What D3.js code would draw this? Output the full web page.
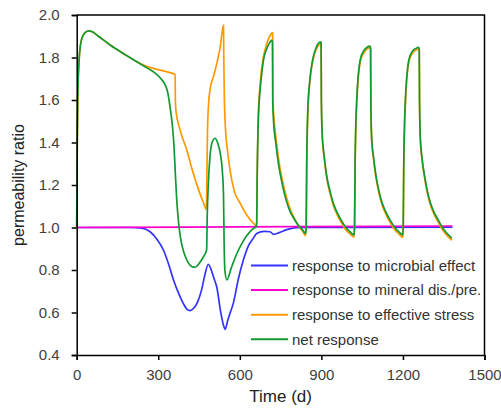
<!DOCTYPE html>
<html>
<head>
<meta charset="utf-8">
<script src="https://cdn.jsdelivr.net/npm/d3@7"></script>
<style>
  body { margin: 0; background: #fff; }
  svg { display: block; font-family: "Liberation Sans", Arial, sans-serif; }
</style>
</head>
<body>
<script>
// tick values
const xTicks = [0, 300, 600, 900, 1200, 1500];
const yTicks = [0.4, 0.6, 0.8, 1.0, 1.2, 1.4, 1.6, 1.8, 2.0];

// series, [time (d), permeability ratio]
const microbial = [
  [0,1.0],[200,1.0],[240,0.997],[270,0.98],[295,0.945],[319,0.894],[340,0.82],[356,0.753],
  [375,0.69],[392,0.643],[405,0.616],[417,0.609],[430,0.62],[445,0.65],[460,0.71],[472,0.78],
  [484,0.827],[492,0.81],[505,0.76],[515,0.721],[530,0.6],[540,0.54],[546,0.521],[555,0.56],
  [565,0.6],[576,0.643],[595,0.76],[613,0.847],[632,0.915],[650,0.95],[662,0.972],[690,0.982],
  [711,0.98],[724,0.968],[745,0.976],[773,0.99],[800,0.998],[822,1.0],[1000,1.001],[1382,1.002]
];

const mineral = [
  [0,1.0],[400,1.002],[800,1.004],[1382,1.007]
];

const stress = [
  [0,1.0],[2,1.4],[4,1.62],[8,1.77],[14,1.86],[22,1.9],[32,1.918],[45,1.925],[55,1.922],
  [80,1.9],[123,1.859],[170,1.82],[221,1.78],[260,1.757],[300,1.743],[340,1.73],[362,1.72],
  [363,1.6],[365,1.55],[380,1.46],[405,1.365],[423,1.28],[445,1.19],[465,1.12],[477,1.085],
  [479,1.25],[481,1.45],[485,1.58],[492,1.66],[503,1.71],[515,1.77],[528,1.85],[540,1.953],
  [541,1.8],[543,1.62],[547,1.47],[555,1.36],[564,1.27],[580,1.17],[601,1.115],[625,1.06],
  [650,1.02],[662,1.008],
  [664,1.25],[667,1.5],[675,1.68],[685,1.79],[698,1.86],[710,1.9],[721,1.917],[722,1.6],
  [726,1.51],[734,1.41],[744,1.31],[757,1.22],[772,1.14],[787,1.08],[802,1.04],[817,1.005],
  [830,0.985],[842,0.962],
  [844,1.0],[846,1.28],[850,1.53],[858,1.69],[868,1.78],[880,1.835],[890,1.858],[897,1.866],
  [899,1.862],[900,1.6],[903,1.43],[910,1.33],[920,1.23],[932,1.16],[945,1.10],[960,1.055],
  [975,1.02],[990,0.99],[1005,0.97],[1020,0.955],
  [1022,1.0],[1024,1.28],[1030,1.58],[1043,1.78],[1055,1.82],[1068,1.84],[1079,1.846],
  [1081,1.838],[1082,1.6],[1085,1.41],[1092,1.32],[1100,1.24],[1112,1.16],[1125,1.10],
  [1140,1.055],[1155,1.02],[1170,0.99],[1185,0.97],[1200,0.953],
  [1201,1.0],[1203,1.28],[1209,1.58],[1222,1.78],[1235,1.82],[1248,1.835],[1257,1.84],
  [1260,1.832],[1261,1.6],[1264,1.41],[1270,1.32],[1280,1.23],[1290,1.16],[1300,1.11],
  [1315,1.06],[1330,1.025],[1345,0.99],[1360,0.965],[1380,0.94]
];

const net = [
  [0,1.0],[2,1.4],[4,1.62],[8,1.77],[14,1.86],[22,1.9],[32,1.918],[45,1.925],[55,1.922],
  [80,1.9],[123,1.859],[170,1.82],[221,1.78],[260,1.75],[290,1.725],[310,1.7],[325,1.672],
  [335,1.635],[343,1.57],[352,1.48],[358,1.38],[363,1.25],[368,1.13],[375,1.02],[382,0.95],
  [395,0.88],[410,0.835],[425,0.815],[436,0.813],[450,0.83],[465,0.86],[478,0.895],
  [480,1.05],[484,1.2],[490,1.33],[498,1.40],[509,1.42],[518,1.40],[528,1.35],[536,1.26],
  [540,1.15],[542,0.95],[545,0.8],[552,0.753],[570,0.815],[590,0.88],[610,0.93],[626,0.962],
  [645,0.99],[660,1.005],
  [662,1.02],[664,1.25],[668,1.5],[677,1.68],[687,1.788],[700,1.845],[710,1.87],[718,1.882],
  [720,1.87],[721,1.6],[724,1.5],[732,1.40],[742,1.30],[755,1.21],[770,1.13],[785,1.075],
  [800,1.04],[815,1.01],[830,0.99],[842,0.972],
  [844,1.0],[846,1.3],[850,1.55],[858,1.7],[868,1.79],[880,1.845],[890,1.868],[896,1.874],
  [899,1.87],[900,1.6],[903,1.44],[910,1.34],[920,1.24],[932,1.17],[945,1.11],[960,1.065],
  [975,1.03],[990,1.0],[1005,0.98],[1020,0.965],
  [1022,1.0],[1024,1.3],[1030,1.6],[1043,1.79],[1055,1.83],[1068,1.848],[1079,1.854],
  [1081,1.845],[1082,1.6],[1085,1.42],[1092,1.33],[1100,1.25],[1112,1.17],[1125,1.11],
  [1140,1.065],[1155,1.03],[1170,1.0],[1185,0.98],[1199,0.965],
  [1201,1.0],[1203,1.3],[1209,1.6],[1222,1.79],[1235,1.83],[1248,1.843],[1257,1.848],
  [1260,1.84],[1261,1.6],[1264,1.42],[1270,1.33],[1280,1.24],[1290,1.17],[1300,1.12],
  [1315,1.07],[1330,1.035],[1345,1.0],[1360,0.975],[1380,0.95]
];

const seriesNames = [
  "response to microbial effect",
  "response to mineral dis./pre.",
  "response to effective stress",
  "net response"
];
const seriesData = [microbial, mineral, stress, net];
const seriesColors = ["#3333ff", "#ff00cc", "#ff9900", "#119933"];

const width = 501, height = 409;
const margin = {top: 15, right: 16.5, bottom: 54, left: 76.7};

const svg = d3.select("body").append("svg")
  .attr("width", width)
  .attr("height", height);

const x = d3.scaleLinear().domain([0, 1500]).range([margin.left, width - margin.right]);
const y = d3.scaleLinear().domain([0.4, 2.0]).range([height - margin.bottom, margin.top]);

// curves
const line = d3.line()
  .x(d => x(d[0]))
  .y(d => y(d[1]))
  .curve(d3.curveMonotoneX);

svg.append("g").selectAll("path")
  .data(seriesData)
  .join("path")
  .attr("d", line)
  .attr("fill", "none")
  .attr("stroke", (d, i) => seriesColors[i])
  .attr("stroke-width", 1.7)
  .attr("stroke-linejoin", "round");

// frame top + right
svg.append("path")
  .attr("d", `M${x(0)},${y(2.0)}H${x(1500)}V${y(0.4)}`)
  .attr("fill", "none")
  .attr("stroke", "#000")
  .attr("stroke-width", 1.5);

// axes
const xAxis = svg.append("g")
  .attr("transform", `translate(0,${y(0.4)})`)
  .call(d3.axisBottom(x).tickValues(xTicks).tickFormat(d3.format("d"))
    .tickSize(5).tickPadding(9));

const yAxis = svg.append("g")
  .attr("transform", `translate(${x(0)},0)`)
  .call(d3.axisLeft(y).tickValues(yTicks).tickFormat(d3.format(".1f"))
    .tickSize(5).tickPadding(12));

[xAxis, yAxis].forEach(g => {
  g.select(".domain").attr("stroke", "#000").attr("stroke-width", 1.5);
  g.selectAll(".tick line").attr("stroke", "#000").attr("stroke-width", 1.5);
  g.selectAll(".tick text")
    .attr("fill", "#404040")
    .style("font-size", "15px")
    .style("font-family", '"Liberation Sans", Arial, sans-serif');
});

// axis titles
svg.append("text")
  .attr("x", (x(0) + x(1500)) / 2)
  .attr("y", 402)
  .attr("text-anchor", "middle")
  .attr("fill", "#222")
  .style("font-size", "17px")
  .text("Time (d)");

svg.append("text")
  .attr("transform", `translate(24,${(y(0.4) + y(2.0)) / 2}) rotate(-90)`)
  .attr("text-anchor", "middle")
  .attr("fill", "#222")
  .style("font-size", "16px")
  .text("permeability ratio");

// legend
const legend = svg.append("g").selectAll("g")
  .data(seriesNames)
  .join("g")
  .attr("transform", (d, i) => `translate(251,${265.5 + i * 24.6})`);

legend.append("line")
  .attr("x1", 0).attr("x2", 37)
  .attr("stroke", (d, i) => seriesColors[i])
  .attr("stroke-width", 2);

legend.append("text")
  .attr("x", 41)
  .attr("dy", "0.35em")
  .attr("fill", "#333")
  .style("font-size", "15px")
  .text(d => d);
</script>
</body>
</html>
